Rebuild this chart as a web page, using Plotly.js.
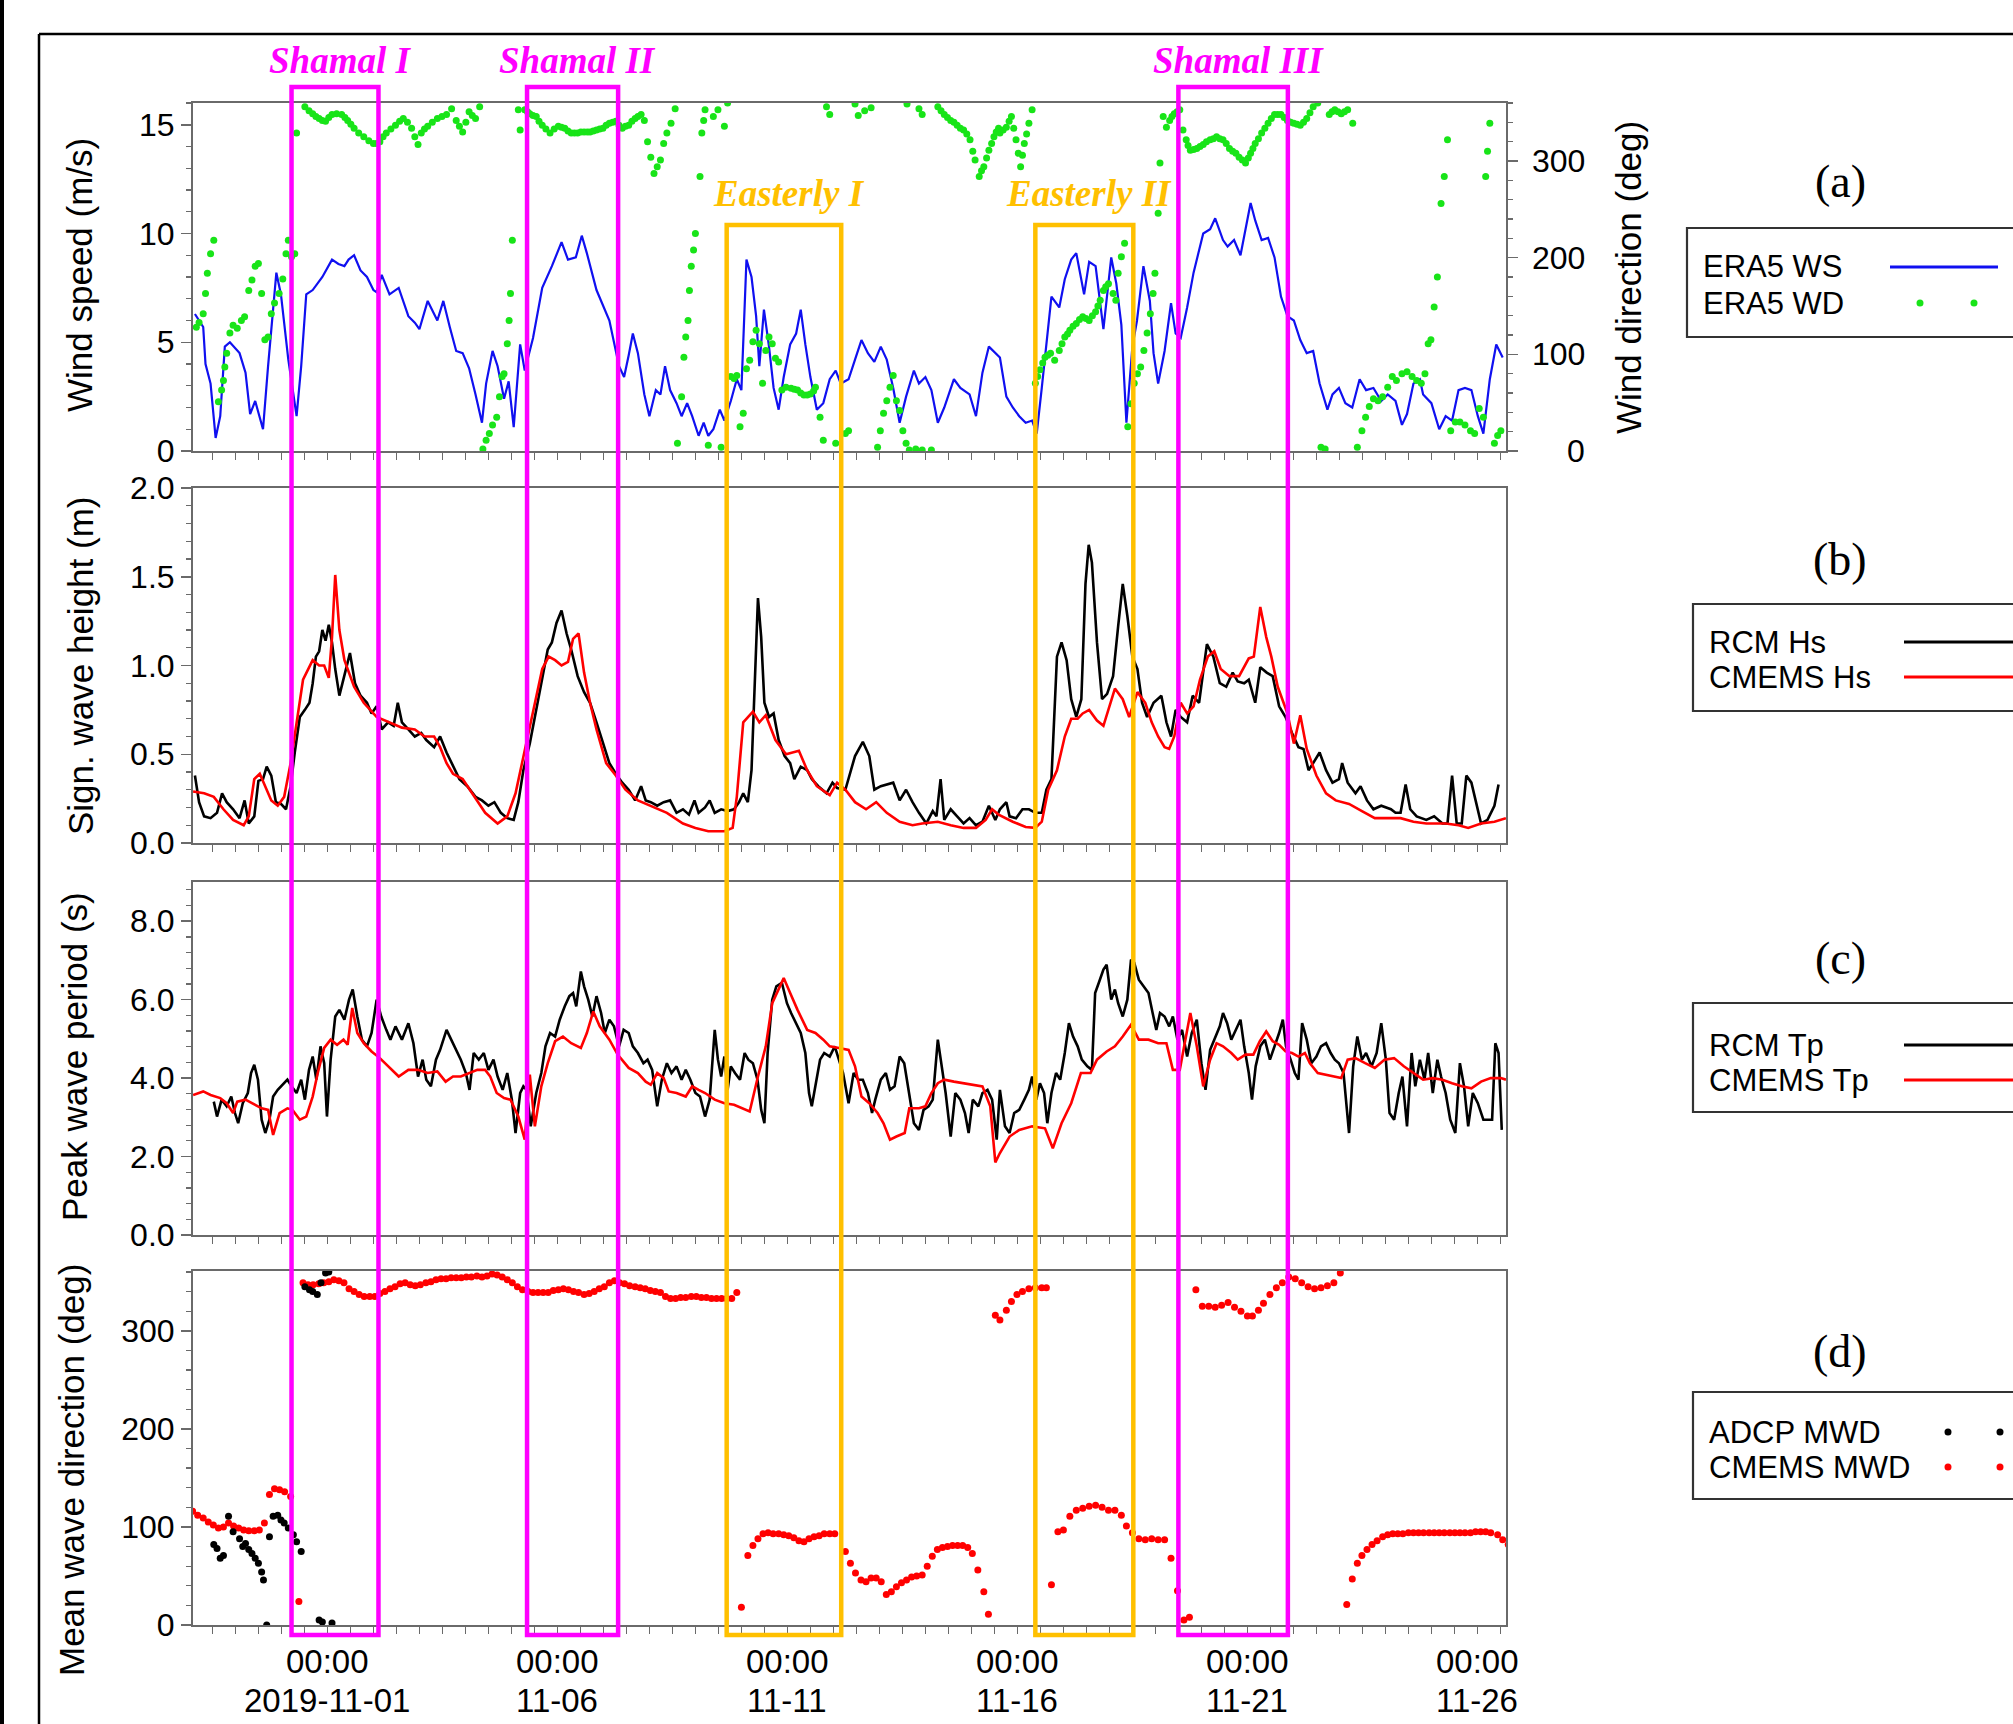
<!DOCTYPE html>
<html><head><meta charset="utf-8">
<script src="https://cdn.plot.ly/plotly-3.0.1.min.js"></script>
<style>html,body{margin:0;padding:0;background:#fff}#chart{width:2013px;height:1724px}</style>
</head><body><div id="chart"></div>
<script>
// ---------- DATA (time = days since 2019-11-01 00:00) ----------
const tickDays = [0,5,10,15,20,25];
const tickTimes = ['00:00','00:00','00:00','00:00','00:00','00:00'];
const tickDates = ['2019-11-01','11-06','11-11','11-16','11-21','11-26'];
const wdTicks = [0,100,200,300];

const eventNames = ['Shamal I','Shamal II','Easterly I','Easterly II','Shamal III'];
const eventKind  = ['shamal','shamal','easterly','easterly','shamal'];
const eventStart = [-0.78, 4.34, 8.68, 15.39, 18.50];
const eventEnd   = [1.11, 6.32, 11.17, 17.52, 20.88];

// (a) ERA5 wind speed (m/s)
const era5WS = [[-2.88,6.3],[-2.70,5.7],[-2.65,4.0],[-2.54,3.1],[-2.43,0.6],[-2.33,1.6],[-2.23,4.8],[-2.12,5.0],[-1.91,4.5],[-1.78,3.6],[-1.68,1.7],[-1.57,2.3],[-1.40,1.0],[-1.29,3.9],[-1.11,8.2],[-1.01,7.2],[-0.85,4.2],[-0.67,1.6],[-0.57,3.9],[-0.46,7.2],[-0.32,7.4],[-0.11,8.0],[0.10,8.8],[0.24,8.6],[0.37,8.5],[0.46,8.8],[0.58,9.0],[0.72,8.3],[0.86,8.0],[1.00,7.4],[1.07,7.3],[1.18,8.1],[1.35,7.2],[1.55,7.5],[1.76,6.2],[1.90,5.9],[2.00,5.6],[2.18,6.9],[2.39,6.0],[2.52,6.9],[2.66,5.7],[2.80,4.6],[2.94,4.5],[3.08,3.8],[3.22,2.6],[3.36,1.3],[3.45,3.1],[3.59,4.6],[3.70,3.9],[3.84,2.4],[3.94,3.2],[4.05,1.1],[4.19,4.9],[4.29,3.7],[4.47,5.2],[4.67,7.5],[4.88,8.5],[5.09,9.6],[5.23,8.8],[5.40,8.9],[5.53,9.9],[5.64,9.1],[5.85,7.4],[5.99,6.7],[6.13,6.0],[6.34,3.9],[6.45,3.4],[6.55,4.4],[6.64,5.4],[6.75,4.5],[6.89,2.6],[7.00,1.6],[7.14,2.8],[7.24,2.6],[7.34,3.9],[7.45,2.8],[7.59,2.2],[7.70,1.6],[7.82,2.2],[7.93,1.6],[8.07,0.7],[8.18,1.3],[8.28,0.7],[8.39,1.0],[8.53,1.9],[8.63,1.4],[8.77,2.3],[8.90,3.3],[9.00,2.8],[9.11,8.8],[9.22,8.0],[9.32,6.2],[9.39,3.9],[9.49,6.5],[9.60,4.8],[9.70,2.9],[9.81,1.9],[9.92,3.4],[10.06,4.9],[10.19,5.4],[10.29,6.5],[10.39,4.9],[10.50,3.4],[10.64,1.9],[10.78,2.2],[10.92,3.3],[11.05,3.7],[11.16,3.1],[11.33,3.3],[11.47,4.2],[11.61,5.1],[11.75,4.5],[11.89,4.1],[12.03,4.8],[12.16,4.2],[12.30,2.9],[12.44,1.3],[12.58,2.5],[12.75,3.7],[12.86,3.1],[13.00,3.4],[13.13,2.8],[13.27,1.3],[13.41,2.0],[13.62,3.3],[13.76,2.9],[13.96,2.6],[14.10,1.6],[14.24,3.6],[14.38,4.8],[14.52,4.5],[14.62,4.3],[14.76,2.5],[14.90,2.0],[15.04,1.6],[15.18,1.3],[15.32,1.4],[15.42,0.8],[15.53,2.9],[15.74,7.1],[15.91,6.6],[16.03,7.9],[16.17,8.8],[16.28,9.1],[16.45,7.2],[16.56,8.7],[16.70,8.5],[16.87,5.6],[17.04,8.9],[17.15,7.7],[17.26,5.8],[17.37,1.3],[17.50,4.8],[17.60,6.0],[17.74,8.5],[17.88,6.9],[17.96,4.5],[18.06,3.1],[18.20,4.6],[18.34,6.8],[18.44,5.4],[18.55,5.2],[18.69,6.6],[18.83,8.2],[19.04,10.0],[19.19,10.2],[19.30,10.7],[19.47,9.7],[19.57,9.4],[19.71,9.7],[19.85,9.0],[20.07,11.4],[20.17,10.6],[20.31,9.7],[20.45,9.8],[20.59,8.9],[20.73,7.1],[20.87,6.2],[21.01,6.0],[21.15,5.1],[21.29,4.5],[21.43,4.6],[21.57,3.1],[21.74,1.9],[21.85,2.6],[21.99,2.9],[22.13,2.2],[22.28,2.0],[22.44,3.3],[22.58,2.8],[22.74,2.9],[22.91,2.3],[23.05,2.6],[23.22,2.3],[23.36,1.2],[23.47,1.7],[23.61,3.1],[23.75,3.3],[23.82,2.6],[24.00,2.2],[24.17,1.0],[24.31,1.6],[24.45,1.4],[24.59,2.8],[24.73,2.9],[24.87,2.8],[25.01,1.6],[25.13,0.8],[25.27,3.3],[25.41,4.9],[25.55,4.3]];

// (a) ERA5 wind direction (deg)
const era5WD = [[-2.85,128],[-2.79,133],[-2.70,142],[-2.65,163],[-2.61,184],[-2.54,204],[-2.47,218],
[-2.37,51],[-2.30,63],[-2.26,73],[-2.23,87],[-2.19,101],[-2.12,122],[-2.05,130],[-1.96,127],[-1.87,135],[-1.80,139],[-1.71,166],[-1.64,177],[-1.57,191],[-1.50,194],[-1.43,163],[-1.36,115],[-1.29,118],[-1.22,142],[-1.15,153],[-1.05,163],[-0.97,178],[-0.90,204],[-0.85,218],[-0.78,201],[-0.71,204],[-0.67,329],
[-0.49,356],[-0.40,352],[-0.32,349],[-0.25,346],[-0.18,344],[-0.11,342],[-0.04,341],[0.03,345],[0.10,348],[0.20,349],[0.31,348],[0.38,345],[0.44,342],[0.51,338],[0.58,334],[0.68,329],[0.79,325],[0.90,321],[1.00,318],[1.07,318],[1.14,320],[1.21,325],[1.28,329],[1.38,333],[1.48,337],[1.57,341],[1.65,344],[1.74,340],[1.83,334],[1.90,325],[1.97,317],[2.04,329],[2.11,333],[2.18,336],[2.28,340],[2.39,344],[2.49,346],[2.59,348],[2.70,354],[2.80,342],[2.87,336],[2.94,330],[3.01,340],[3.08,351],[3.15,347],[3.22,344],[3.31,356],
[3.38,2],[3.45,11],[3.52,18],[3.59,27],[3.68,35],[3.74,56],[3.80,77],[3.84,80],[3.91,111],[3.95,135],[3.98,163],[4.02,218],
[4.15,353],[4.19,332],[4.29,353],[4.35,351],[4.40,349],[4.47,347],[4.54,346],[4.60,341],[4.67,337],[4.75,333],[4.84,329],[4.93,333],[5.02,336],[5.09,335],[5.16,334],[5.23,331],[5.30,329],[5.37,329],[5.44,329],[5.51,330],[5.58,330],[5.65,330],[5.71,330],[5.78,331],[5.85,332],[5.92,333],[5.99,334],[6.06,337],[6.13,339],[6.20,340],[6.27,341],[6.34,337],[6.41,334],[6.48,336],[6.55,337],[6.62,341],[6.69,344],[6.75,346],[6.82,348],[6.89,342],[6.96,320],[7.03,304],[7.10,287],[7.17,294],[7.24,301],[7.31,318],[7.38,329],[7.47,339],[7.56,354],
[7.61,8],[7.70,56],[7.75,97],[7.79,118],[7.84,135],[7.87,166],[7.91,191],[7.96,208],[8.00,225],[8.10,284],[8.14,329],[8.18,342],[8.21,353],[8.28,6],[8.39,346],[8.49,353],[8.56,4],[8.63,336],[8.70,360],
[8.77,77],[8.84,75],[8.90,78],[8.97,25],[9.04,39],[9.11,85],[9.18,94],[9.25,113],[9.32,125],[9.39,111],[9.46,70],[9.53,104],[9.60,118],[9.67,111],[9.74,96],[9.81,92],[9.88,63],[9.97,66],[10.08,65],[10.15,64],[10.22,63],[10.29,60],[10.36,58],[10.43,58],[10.50,59],[10.57,62],[10.61,66],[10.71,35],[10.78,11],[11.05,8],[11.26,18],[11.33,21],
[10.85,356],[10.92,348],[11.47,359],[11.54,347],[11.68,352],[11.82,355],
[11.96,4],[12.02,21],[12.09,39],[12.16,52],[12.23,66],[12.30,78],[12.37,52],[12.44,42],[12.51,21],[12.58,8],[12.65,1],[12.79,2],[12.93,1],[13.13,1],
[12.60,359],[12.86,354],[12.93,348],[13.27,356],[13.34,352],[13.41,348],[13.48,345],[13.55,342],[13.62,340],[13.69,337],[13.76,334],[13.83,332],[13.90,328],[13.97,322],[14.03,310],[14.08,301],[14.17,284],[14.22,290],[14.27,294],[14.33,303],[14.38,311],[14.44,318],[14.49,325],[14.54,330],[14.59,334],[14.62,329],[14.69,332],[14.76,335],[14.82,341],[14.87,346],[14.92,334],[14.97,322],[15.02,308],[15.07,294],[15.11,306],[15.15,318],[15.20,328],[15.25,339],[15.32,353],
[15.39,70],[15.44,77],[15.49,84],[15.55,91],[15.60,97],[15.66,99],[15.72,101],[15.81,94],[15.91,104],[15.97,111],[16.03,118],[16.09,121],[16.14,125],[16.21,129],[16.28,132],[16.35,136],[16.42,139],[16.49,137],[16.56,135],[16.63,140],[16.70,144],[16.75,150],[16.80,156],[16.87,166],[16.92,170],[16.98,173],[17.08,163],[17.14,156],[17.19,184],[17.26,201],[17.33,215],
[17.40,25],[17.47,49],[17.54,70],[17.61,80],[17.68,87],[17.75,104],[17.82,122],[17.89,142],[17.95,163],[17.99,184],[18.06,246],[18.10,298],[18.17,346],[18.24,335],[18.31,342],[18.36,346],[18.41,349],[18.47,351],[18.53,353],[18.60,332],[18.67,322],[18.71,316],[18.76,311],[18.83,312],[18.90,313],[18.97,315],[19.04,317],[19.11,320],[19.19,322],[19.26,323],[19.33,325],[19.40,323],[19.47,322],[19.54,318],[19.61,313],[19.68,310],[19.75,308],[19.82,304],[19.89,301],[19.96,298],[20.02,303],[20.07,308],[20.12,313],[20.17,318],[20.24,323],[20.31,329],[20.38,334],[20.45,339],[20.52,344],[20.59,348],[20.66,348],[20.73,348],[20.80,345],[20.87,342],[20.94,340],[21.01,339],[21.08,338],[21.15,337],[21.22,340],[21.29,344],[21.36,350],[21.43,356],[21.53,360],[21.60,4],[21.69,2],[21.78,348],[21.84,351],[21.90,353],[21.97,351],[22.04,349],[22.11,351],[22.18,353],[22.29,339],[22.39,4],
[22.49,21],[22.57,35],[22.65,46],[22.74,54],[22.84,52],[22.94,56],[23.05,66],[23.15,77],[23.24,73],[23.36,80],[23.47,82],[23.58,77],[23.68,73],[23.78,70],[23.86,80],[23.93,111],[23.99,115],[24.06,149],[24.13,180],[24.21,256],[24.28,284],[24.35,322],[24.42,21],[24.52,30],[24.62,30],[24.73,27],[24.85,21],[24.94,18],[25.04,44],[25.13,35],[25.18,284],[25.22,310],[25.27,339],[25.37,8],[25.44,16],[25.51,21]];

// (b) significant wave height (m)
const rcmHs = [[-2.88,0.38],[-2.79,0.23],[-2.68,0.15],[-2.54,0.14],[-2.40,0.17],[-2.29,0.28],[-2.19,0.23],[-2.05,0.19],[-1.91,0.14],[-1.80,0.24],[-1.71,0.11],[-1.59,0.15],[-1.50,0.35],[-1.40,0.36],[-1.32,0.43],[-1.22,0.38],[-1.12,0.23],[-1.01,0.22],[-0.90,0.19],[-0.80,0.32],[-0.71,0.51],[-0.60,0.71],[-0.49,0.75],[-0.39,0.79],[-0.32,0.90],[-0.25,1.05],[-0.18,1.08],[-0.11,1.20],[-0.04,1.14],[0.03,1.23],[0.10,1.13],[0.17,0.98],[0.26,0.83],[0.37,0.94],[0.49,1.07],[0.60,0.90],[0.72,0.83],[0.86,0.79],[0.96,0.73],[1.07,0.77],[1.18,0.64],[1.32,0.68],[1.44,0.66],[1.53,0.79],[1.62,0.68],[1.76,0.64],[1.90,0.60],[2.04,0.62],[2.15,0.58],[2.32,0.54],[2.45,0.60],[2.59,0.51],[2.73,0.43],[2.87,0.36],[3.04,0.32],[3.22,0.26],[3.36,0.24],[3.50,0.21],[3.63,0.23],[3.77,0.17],[3.91,0.14],[4.05,0.13],[4.15,0.23],[4.26,0.41],[4.40,0.56],[4.54,0.75],[4.67,0.94],[4.79,1.09],[4.88,1.13],[4.98,1.24],[5.09,1.31],[5.20,1.18],[5.30,1.09],[5.44,0.94],[5.58,0.85],[5.71,0.79],[5.85,0.68],[5.99,0.56],[6.13,0.45],[6.27,0.39],[6.41,0.34],[6.55,0.30],[6.69,0.24],[6.82,0.32],[6.92,0.24],[7.03,0.23],[7.17,0.21],[7.31,0.23],[7.45,0.24],[7.59,0.17],[7.73,0.19],[7.86,0.16],[7.98,0.24],[8.07,0.17],[8.21,0.20],[8.31,0.24],[8.42,0.17],[8.56,0.19],[8.70,0.18],[8.84,0.19],[8.95,0.23],[9.04,0.28],[9.14,0.23],[9.22,0.41],[9.30,0.98],[9.36,1.38],[9.43,1.16],[9.50,0.79],[9.60,0.71],[9.70,0.73],[9.81,0.58],[9.94,0.49],[10.06,0.45],[10.15,0.36],[10.29,0.43],[10.43,0.41],[10.53,0.36],[10.67,0.32],[10.85,0.28],[10.98,0.34],[11.08,0.31],[11.26,0.30],[11.47,0.49],[11.64,0.57],[11.78,0.49],[11.89,0.30],[12.03,0.32],[12.19,0.33],[12.30,0.34],[12.44,0.24],[12.58,0.30],[12.72,0.23],[12.86,0.17],[13.02,0.11],[13.16,0.18],[13.24,0.15],[13.33,0.36],[13.41,0.13],[13.55,0.19],[13.69,0.15],[13.83,0.11],[13.96,0.14],[14.10,0.10],[14.24,0.12],[14.38,0.21],[14.52,0.13],[14.62,0.19],[14.76,0.23],[14.83,0.15],[14.97,0.14],[15.11,0.19],[15.25,0.19],[15.39,0.17],[15.53,0.17],[15.63,0.30],[15.74,0.36],[15.86,1.05],[15.96,1.13],[16.07,1.03],[16.17,0.81],[16.28,0.71],[16.39,0.81],[16.48,1.46],[16.55,1.68],[16.62,1.58],[16.73,1.13],[16.84,0.81],[16.95,0.84],[17.08,0.94],[17.19,1.22],[17.29,1.46],[17.39,1.28],[17.50,1.05],[17.61,0.98],[17.71,0.79],[17.82,0.71],[17.96,0.79],[18.13,0.83],[18.24,0.68],[18.34,0.60],[18.44,0.75],[18.55,0.71],[18.69,0.68],[18.81,0.83],[18.95,0.79],[19.12,1.12],[19.26,1.05],[19.40,0.90],[19.54,0.88],[19.68,0.96],[19.79,0.91],[19.93,0.90],[20.03,0.92],[20.17,0.79],[20.28,0.99],[20.42,0.96],[20.55,0.94],[20.69,0.77],[20.83,0.71],[20.97,0.62],[21.11,0.54],[21.22,0.53],[21.33,0.41],[21.43,0.45],[21.57,0.51],[21.71,0.41],[21.85,0.34],[21.99,0.36],[22.06,0.45],[22.18,0.34],[22.35,0.28],[22.46,0.32],[22.60,0.24],[22.74,0.19],[22.91,0.21],[23.12,0.19],[23.22,0.17],[23.33,0.17],[23.44,0.33],[23.54,0.19],[23.68,0.15],[23.89,0.13],[24.06,0.15],[24.24,0.11],[24.35,0.11],[24.45,0.38],[24.55,0.11],[24.66,0.11],[24.76,0.38],[24.87,0.34],[24.97,0.23],[25.08,0.11],[25.22,0.13],[25.37,0.21],[25.46,0.33]];
const cmemsHs = [[-2.92,0.29],[-2.68,0.28],[-2.47,0.26],[-2.26,0.19],[-2.05,0.13],[-1.82,0.10],[-1.71,0.15],[-1.59,0.36],[-1.47,0.39],[-1.36,0.32],[-1.22,0.24],[-1.08,0.21],[-0.94,0.26],[-0.80,0.45],[-0.67,0.69],[-0.53,0.92],[-0.32,1.03],[-0.18,1.00],[-0.07,1.00],[0.03,0.93],[0.10,1.16],[0.17,1.51],[0.26,1.20],[0.37,1.03],[0.58,0.88],[0.79,0.79],[1.07,0.71],[1.35,0.68],[1.62,0.65],[1.90,0.64],[2.11,0.60],[2.32,0.60],[2.45,0.54],[2.59,0.45],[2.73,0.39],[2.94,0.36],[3.15,0.28],[3.43,0.17],[3.70,0.11],[3.91,0.15],[4.09,0.28],[4.26,0.49],[4.47,0.73],[4.67,0.98],[4.81,1.05],[4.95,1.03],[5.09,1.00],[5.23,1.02],[5.34,1.15],[5.46,1.18],[5.58,0.96],[5.71,0.79],[5.85,0.64],[6.06,0.45],[6.27,0.38],[6.48,0.30],[6.75,0.24],[7.03,0.21],[7.38,0.17],[7.73,0.11],[8.00,0.085],[8.28,0.066],[8.63,0.066],[8.81,0.085],[8.90,0.26],[9.04,0.68],[9.25,0.74],[9.39,0.68],[9.53,0.72],[9.74,0.58],[9.97,0.50],[10.25,0.52],[10.43,0.41],[10.64,0.32],[10.92,0.27],[11.08,0.34],[11.26,0.30],[11.47,0.23],[11.71,0.19],[11.93,0.23],[12.16,0.17],[12.44,0.12],[12.72,0.10],[12.93,0.11],[13.27,0.12],[13.55,0.10],[13.83,0.085],[14.10,0.085],[14.31,0.13],[14.45,0.19],[14.59,0.16],[14.90,0.12],[15.18,0.09],[15.39,0.085],[15.53,0.12],[15.67,0.30],[15.86,0.41],[16.03,0.60],[16.17,0.70],[16.31,0.70],[16.42,0.73],[16.56,0.75],[16.73,0.69],[16.87,0.66],[16.98,0.75],[17.12,0.87],[17.29,0.81],[17.43,0.71],[17.61,0.85],[17.78,0.79],[17.92,0.68],[18.06,0.60],[18.20,0.54],[18.30,0.53],[18.41,0.60],[18.55,0.79],[18.69,0.73],[18.83,0.77],[18.97,0.92],[19.14,1.05],[19.28,1.08],[19.42,0.98],[19.61,0.94],[19.82,0.94],[20.03,1.04],[20.14,1.05],[20.28,1.33],[20.41,1.16],[20.52,1.05],[20.66,0.88],[20.87,0.73],[21.01,0.56],[21.15,0.72],[21.29,0.53],[21.50,0.38],[21.71,0.28],[21.92,0.24],[22.21,0.22],[22.49,0.18],[22.77,0.14],[23.05,0.14],[23.33,0.14],[23.61,0.12],[23.89,0.11],[24.31,0.11],[24.59,0.10],[24.80,0.085],[25.08,0.11],[25.37,0.12],[25.62,0.14]];

// (c) peak wave period (s)
const rcmTp = [[-2.47,3.40],[-2.40,3.02],[-2.30,3.45],[-2.19,3.28],[-2.09,3.53],[-2.01,3.11],[-1.94,2.85],[-1.84,3.36],[-1.73,3.62],[-1.66,4.13],[-1.59,4.34],[-1.51,3.96],[-1.43,2.94],[-1.35,2.60],[-1.26,2.94],[-1.18,3.53],[-1.08,3.70],[-0.97,3.83],[-0.87,3.96],[-0.78,3.79],[-0.67,3.62],[-0.57,3.96],[-0.49,3.45],[-0.40,4.21],[-0.32,4.55],[-0.24,3.96],[-0.15,4.81],[-0.07,4.38],[-0.01,3.02],[0.07,4.47],[0.17,5.57],[0.26,5.74],[0.37,5.49],[0.47,6.00],[0.55,6.26],[0.65,5.57],[0.75,4.98],[0.86,4.81],[0.96,5.15],[1.07,6.00],[1.17,5.57],[1.28,5.23],[1.37,4.98],[1.48,5.32],[1.62,4.98],[1.76,5.40],[1.87,4.89],[1.97,4.04],[2.07,4.47],[2.15,3.96],[2.25,3.79],[2.36,4.47],[2.45,4.72],[2.59,5.23],[2.69,4.98],[2.80,4.72],[2.90,4.47],[3.01,4.13],[3.09,3.70],[3.18,4.64],[3.29,4.47],[3.40,4.64],[3.50,4.21],[3.61,4.47],[3.70,4.04],[3.81,3.70],[3.91,4.13],[4.01,3.45],[4.09,2.60],[4.19,3.62],[4.26,3.79],[4.33,3.70],[4.42,2.77],[4.54,3.62],[4.65,4.13],[4.74,4.81],[4.84,5.15],[4.95,5.06],[5.05,5.49],[5.16,5.83],[5.26,6.09],[5.34,6.17],[5.41,5.83],[5.51,6.72],[5.58,6.34],[5.67,6.00],[5.76,5.57],[5.85,6.09],[5.95,5.66],[6.03,5.15],[6.13,5.49],[6.23,5.32],[6.34,4.81],[6.44,5.23],[6.55,5.15],[6.64,4.81],[6.75,4.64],[6.87,4.38],[6.96,4.47],[7.06,4.21],[7.17,3.28],[7.27,3.96],[7.38,4.38],[7.48,4.13],[7.59,4.30],[7.70,3.96],[7.79,4.21],[7.89,3.96],[8.00,3.62],[8.10,3.53],[8.21,3.02],[8.31,3.45],[8.42,5.23],[8.49,4.47],[8.56,4.04],[8.63,4.55],[8.70,3.70],[8.77,4.30],[8.86,4.13],[8.97,3.96],[9.07,4.64],[9.15,4.47],[9.25,4.38],[9.35,3.96],[9.43,3.19],[9.50,2.85],[9.57,4.64],[9.67,6.00],[9.76,6.34],[9.88,6.43],[9.99,5.91],[10.08,5.66],[10.19,5.40],[10.29,5.15],[10.39,4.64],[10.47,3.62],[10.53,3.28],[10.61,3.79],[10.71,4.47],[10.80,4.64],[10.92,4.55],[11.03,4.81],[11.12,4.47],[11.21,4.13],[11.33,3.36],[11.44,4.13],[11.54,3.96],[11.64,3.96],[11.75,3.62],[11.84,3.11],[11.91,3.45],[12.03,3.96],[12.14,4.13],[12.23,3.70],[12.33,3.79],[12.44,4.55],[12.54,4.38],[12.65,3.62],[12.75,2.85],[12.86,2.68],[12.96,3.19],[13.07,3.28],[13.16,3.45],[13.27,4.98],[13.35,4.30],[13.44,3.62],[13.55,2.51],[13.65,3.62],[13.76,3.45],[13.86,3.11],[13.94,2.60],[14.03,3.45],[14.15,3.28],[14.24,3.62],[14.35,3.70],[14.45,3.45],[14.55,2.43],[14.62,3.70],[14.73,2.77],[14.83,2.60],[14.93,3.11],[15.04,3.19],[15.15,3.45],[15.25,3.70],[15.32,4.04],[15.41,3.45],[15.49,3.87],[15.58,3.62],[15.65,2.85],[15.74,3.62],[15.84,4.13],[15.93,3.96],[16.03,4.64],[16.12,5.40],[16.21,5.06],[16.31,4.81],[16.40,4.47],[16.52,4.30],[16.62,4.21],[16.69,6.17],[16.77,6.43],[16.87,6.77],[16.94,6.89],[17.04,6.00],[17.12,6.26],[17.19,5.91],[17.29,5.57],[17.39,6.00],[17.47,7.02],[17.54,6.94],[17.64,6.51],[17.74,6.34],[17.85,6.17],[17.94,5.66],[18.02,5.23],[18.10,5.66],[18.20,5.57],[18.30,5.32],[18.38,5.57],[18.48,4.98],[18.58,5.23],[18.69,4.55],[18.79,5.15],[18.90,5.49],[19.00,4.38],[19.09,3.70],[19.19,4.72],[19.28,4.98],[19.40,5.32],[19.47,5.66],[19.56,5.40],[19.65,4.98],[19.75,5.23],[19.85,5.49],[19.93,4.81],[20.03,4.13],[20.10,3.45],[20.18,4.30],[20.28,4.81],[20.38,4.98],[20.49,4.47],[20.59,4.81],[20.69,5.15],[20.77,5.49],[20.84,4.81],[20.94,4.47],[21.03,4.13],[21.11,3.96],[21.19,5.40],[21.29,4.98],[21.39,4.38],[21.50,4.55],[21.60,4.81],[21.71,4.89],[21.81,4.64],[21.90,4.47],[21.99,4.38],[22.09,4.13],[22.21,2.60],[22.30,4.30],[22.39,5.06],[22.49,4.47],[22.58,4.64],[22.70,4.30],[22.81,4.64],[22.91,5.40],[23.01,4.47],[23.09,3.11],[23.19,2.94],[23.29,3.62],[23.37,4.04],[23.47,2.77],[23.57,4.64],[23.65,3.79],[23.75,4.47],[23.85,3.96],[23.93,4.64],[24.03,3.62],[24.13,4.47],[24.21,4.04],[24.31,3.62],[24.41,2.94],[24.52,2.60],[24.62,4.38],[24.71,3.79],[24.80,2.77],[24.90,3.62],[25.01,3.36],[25.13,2.94],[25.22,2.94],[25.32,2.94],[25.39,4.89],[25.46,4.64],[25.53,2.68]];
const cmemsTp = [[-2.92,3.57],[-2.70,3.66],[-2.54,3.57],[-2.33,3.49],[-2.19,3.36],[-2.05,3.11],[-1.96,3.40],[-1.78,3.45],[-1.64,3.36],[-1.43,3.23],[-1.29,3.19],[-1.18,2.55],[-1.04,3.11],[-0.87,3.23],[-0.76,3.19],[-0.60,2.94],[-0.46,3.02],[-0.32,3.53],[-0.21,4.13],[-0.07,4.77],[0.07,4.98],[0.21,4.85],[0.35,4.98],[0.44,4.85],[0.54,5.79],[0.65,5.15],[0.79,4.89],[0.96,4.68],[1.14,4.51],[1.35,4.26],[1.55,4.04],[1.76,4.21],[1.97,4.21],[2.18,4.13],[2.39,4.17],[2.57,3.91],[2.73,4.04],[2.90,4.04],[3.08,4.13],[3.26,4.21],[3.43,4.21],[3.54,4.04],[3.68,3.62],[3.84,3.49],[3.98,3.45],[4.15,3.02],[4.29,2.43],[4.40,4.09],[4.51,2.77],[4.65,3.79],[4.79,4.38],[4.95,4.94],[5.12,5.06],[5.30,4.89],[5.51,4.77],[5.64,5.15],[5.78,5.70],[5.92,5.32],[6.13,4.98],[6.31,4.60],[6.55,4.26],[6.75,4.13],[6.92,3.91],[7.03,3.83],[7.17,4.13],[7.31,4.00],[7.42,3.66],[7.59,3.62],[7.79,3.53],[7.93,3.79],[8.07,3.70],[8.21,3.62],[8.42,3.45],[8.63,3.36],[8.84,3.32],[9.04,3.23],[9.18,3.15],[9.36,4.04],[9.53,4.81],[9.67,5.91],[9.81,6.26],[9.92,6.55],[10.06,6.17],[10.22,5.74],[10.43,5.23],[10.61,5.15],[10.78,4.98],[10.92,4.81],[11.12,4.77],[11.33,4.72],[11.47,4.30],[11.61,3.53],[11.78,3.36],[11.96,3.11],[12.09,2.85],[12.23,2.43],[12.37,2.51],[12.55,2.60],[12.65,3.23],[12.86,3.23],[13.00,3.28],[13.13,3.62],[13.27,3.87],[13.41,3.96],[13.62,3.91],[13.83,3.87],[14.03,3.83],[14.24,3.79],[14.41,3.28],[14.52,1.85],[14.62,2.09],[14.83,2.51],[15.04,2.68],[15.32,2.77],[15.60,2.72],[15.77,2.21],[15.96,2.85],[16.17,3.36],[16.38,4.13],[16.59,4.13],[16.73,4.47],[16.94,4.68],[17.12,4.81],[17.29,5.06],[17.47,5.36],[17.64,4.98],[17.85,4.98],[18.06,4.89],[18.24,4.89],[18.38,4.21],[18.53,4.21],[18.76,5.66],[18.90,4.81],[19.04,3.79],[19.19,4.47],[19.33,4.89],[19.47,4.81],[19.65,4.64],[19.79,4.47],[19.96,4.60],[20.13,4.60],[20.27,4.94],[20.41,5.19],[20.55,4.94],[20.69,4.85],[20.83,4.68],[20.97,4.64],[21.11,4.55],[21.25,4.64],[21.36,4.38],[21.53,4.13],[21.71,4.09],[21.90,4.04],[22.04,4.00],[22.18,4.47],[22.35,4.51],[22.56,4.38],[22.77,4.26],[22.98,4.47],[23.19,4.51],[23.40,4.30],[23.61,4.13],[23.82,3.96],[24.03,4.00],[24.24,3.96],[24.45,3.87],[24.66,3.79],[24.87,3.74],[25.08,3.91],[25.29,4.00],[25.51,4.00],[25.62,3.96]];

// (d) mean wave direction (deg)
const adcpMWD = [[-2.47,82],[-2.40,78],[-2.33,68],[-2.26,71],[-2.15,111],[-2.05,95],[-1.91,88],[-1.84,80],[-1.78,83],[-1.71,77],[-1.64,73],[-1.57,68],[-1.50,63],[-1.43,54],[-1.39,46],[-1.32,0],[-1.26,90],[-1.18,111],[-1.08,112],[-1.01,107],[-0.94,104],[-0.85,99],[-0.74,92],[-0.67,85],[-0.57,75],[-0.49,345],[-0.39,342],[-0.32,340],[-0.22,337],[-0.18,5],[-0.14,349],[-0.11,3],[-0.04,359],[0.03,360],[0.10,2]];
const cmemsMWD = [[-2.93,116],[-2.82,112],[-2.70,109],[-2.59,105],[-2.48,102],[-2.37,99],[-2.26,100],[-2.15,104],[-2.04,101],[-1.93,99],[-1.82,97],[-1.71,96],[-1.59,96],[-1.48,97],[-1.37,104],[-1.26,133],[-1.15,139],[-1.04,138],[-0.93,136],[-0.80,131],[-0.62,24],
[-0.53,349],[-0.42,347],[-0.31,347],[-0.19,348],[-0.08,349],[0.03,350],[0.14,352],[0.25,351],[0.36,349],[0.47,343],[0.58,340],[0.69,337],[0.80,335],[0.92,335],[1.03,335],[1.14,338],[1.25,340],[1.36,343],[1.47,345],[1.58,348],[1.69,349],[1.80,347],[1.91,346],[2.02,347],[2.14,349],[2.25,350],[2.36,352],[2.47,353],[2.58,353],[2.69,354],[2.80,354],[2.91,354],[3.02,355],[3.13,355],[3.25,356],[3.36,355],[3.47,356],[3.58,358],[3.69,357],[3.80,355],[3.91,352],[4.02,349],[4.13,345],[4.24,342],[4.36,340],[4.47,339],[4.58,339],[4.69,339],[4.80,339],[4.91,341],[5.02,342],[5.13,343],[5.24,342],[5.35,340],[5.46,339],[5.58,337],[5.69,338],[5.80,340],[5.91,343],[6.02,345],[6.13,349],[6.24,351],[6.35,349],[6.46,348],[6.57,346],[6.69,345],[6.80,344],[6.91,343],[7.02,341],[7.13,340],[7.24,339],[7.35,335],[7.46,333],[7.57,333],[7.68,334],[7.79,334],[7.91,335],[8.02,335],[8.13,334],[8.24,334],[8.35,333],[8.46,333],[8.57,333],[8.68,333],[8.79,333],[8.90,339],
[9.00,18],[9.14,71],[9.25,81],[9.36,88],[9.47,93],[9.58,94],[9.69,93],[9.81,93],[9.92,92],[10.03,91],[10.14,89],[10.25,86],[10.36,85],[10.47,88],[10.58,90],[10.69,91],[10.80,93],[10.92,93],[11.03,93],[11.26,75],[11.37,63],[11.48,53],[11.60,46],[11.71,44],[11.82,48],[11.93,48],[12.04,44],[12.15,31],[12.26,34],[12.37,39],[12.48,43],[12.59,46],[12.70,49],[12.81,50],[12.93,51],[13.04,60],[13.15,70],[13.26,77],[13.37,79],[13.48,80],[13.59,81],[13.70,81],[13.81,81],[13.92,79],[14.02,73],[14.14,56],[14.27,34],[14.37,11],
[14.52,316],[14.62,311],[14.76,321],[14.87,330],[14.99,337],[15.11,340],[15.25,343],[15.39,344],[15.53,344],[15.63,344],
[15.74,41],[15.88,95],[16.00,97],[16.14,111],[16.28,117],[16.42,119],[16.56,121],[16.70,122],[16.84,120],[16.98,117],[17.12,117],[17.26,112],[17.37,101],[17.50,94],[17.64,88],[17.78,87],[17.92,88],[18.06,87],[18.20,87],[18.34,68],[18.48,35],[18.62,5],[18.74,8],
[18.88,342],[19.02,325],[19.16,325],[19.30,324],[19.44,326],[19.58,329],[19.72,324],[19.86,320],[20.00,315],[20.11,315],[20.24,321],[20.35,328],[20.49,337],[20.63,344],[20.76,349],[20.90,355],[21.04,353],[21.18,349],[21.32,345],[21.46,343],[21.60,344],[21.74,346],[21.88,349],[22.02,359],
[22.16,21],[22.28,47],[22.39,63],[22.49,71],[22.60,77],[22.71,82],[22.82,86],[22.94,90],[23.05,92],[23.16,93],[23.27,93],[23.38,93],[23.50,94],[23.61,94],[23.72,94],[23.83,94],[23.95,94],[24.06,94],[24.17,94],[24.28,94],[24.40,94],[24.51,94],[24.62,94],[24.73,94],[24.85,94],[24.96,95],[25.07,95],[25.18,95],[25.29,94],[25.44,92],[25.55,87],[25.67,82]];

// ---------- helpers ----------
const W = 2013, H = 1724;
const DAY = 86400000, T0 = Date.UTC(2019, 10, 1);
const T = d => T0 + d * DAY;
const PX = x => x / W, PY = y => 1 - y / H;
const xs = a => a.map(p => T(p[0]));
const ys = a => a.map(p => p[1]);

const FONT = 'Liberation Sans, Arial, sans-serif';
const SERIF = 'Liberation Serif, Times New Roman, serif';
const AX = '#6a6a6a';
const MAGENTA = '#FF00FF', ORANGE = '#FFC000';
const BLUE = '#1010F0', GREEN = '#18E418', RED = '#FF0000', BLACK = '#000000';

const xDomain = [PX(193), PX(1506)];
const xRange = [T(-2.922), T(25.622)];

function xAxis(anchor, matches) {
  const ax = {
    type: 'date', domain: xDomain, range: xRange, anchor: anchor,
    tickmode: 'array', tickvals: tickDays.map(T), ticktext: tickDays.map(() => ''),
    showticklabels: false, ticks: 'outside', ticklen: 12, tickwidth: 1.5, tickcolor: AX,
    minor: {dtick: DAY / 2, tick0: T0, ticks: 'outside', ticklen: 7, tickwidth: 1.2, tickcolor: AX, showgrid: false},
    showline: true, mirror: true, linecolor: AX, linewidth: 2, showgrid: false, zeroline: false
  };
  if (matches) ax.matches = matches;
  return ax;
}
function yAxis(domain, range, tickvals, minorStep, fmt, anchor) {
  return {
    domain: domain, range: range, anchor: anchor, tickmode: 'array', tickvals: tickvals,
    tickformat: fmt, ticks: 'outside', ticklen: 10, tickwidth: 1.5, tickcolor: AX,
    minor: {dtick: minorStep, tick0: 0, ticks: 'outside', ticklen: 5, tickwidth: 1.2, tickcolor: AX, showgrid: false},
    showline: true, mirror: true, linecolor: AX, linewidth: 2, showgrid: false, zeroline: false,
    tickfont: {family: FONT, size: 32, color: '#000'}
  };
}

const traces = [
  {x: xs(era5WS), y: ys(era5WS), xaxis: 'x', yaxis: 'y', mode: 'lines', line: {color: BLUE, width: 2.2}, name: 'ERA5 WS'},
  {x: xs(era5WD), y: ys(era5WD), xaxis: 'x', yaxis: 'y2', mode: 'markers', marker: {color: GREEN, size: 7}, name: 'ERA5 WD'},
  {x: xs(rcmHs), y: ys(rcmHs), xaxis: 'x2', yaxis: 'y3', mode: 'lines', line: {color: BLACK, width: 2.6}, name: 'RCM Hs'},
  {x: xs(cmemsHs), y: ys(cmemsHs), xaxis: 'x2', yaxis: 'y3', mode: 'lines', line: {color: RED, width: 2.6}, name: 'CMEMS Hs'},
  {x: xs(rcmTp), y: ys(rcmTp), xaxis: 'x3', yaxis: 'y4', mode: 'lines', line: {color: BLACK, width: 2.6}, name: 'RCM Tp'},
  {x: xs(cmemsTp), y: ys(cmemsTp), xaxis: 'x3', yaxis: 'y4', mode: 'lines', line: {color: RED, width: 2.6}, name: 'CMEMS Tp'},
  {x: xs(cmemsMWD), y: ys(cmemsMWD), xaxis: 'x4', yaxis: 'y5', mode: 'markers', marker: {color: RED, size: 7}, name: 'CMEMS MWD'},
  {x: xs(adcpMWD), y: ys(adcpMWD), xaxis: 'x4', yaxis: 'y5', mode: 'markers', marker: {color: BLACK, size: 7}, name: 'ADCP MWD'}
];

const shapes = [];
const annotations = [];

// figure frame
shapes.push({type: 'rect', xref: 'paper', yref: 'paper', x0: 0, x1: PX(4), y0: 0, y1: 1, fillcolor: '#000', line: {width: 0}, layer: 'above'});
shapes.push({type: 'line', xref: 'paper', yref: 'paper', x0: PX(39), x1: PX(39), y0: 0, y1: PY(34), line: {color: '#000', width: 2.5}});
shapes.push({type: 'line', xref: 'paper', yref: 'paper', x0: PX(39), x1: 1.01, y0: PY(34), y1: PY(34), line: {color: '#000', width: 2.5}});

// date tick labels on the bottom panel (two rows)
tickDays.forEach((d, i) => {
  annotations.push({xref: 'x4', yref: 'paper', x: T(d), y: PY(1661), text: tickTimes[i], showarrow: false,
    xanchor: 'center', yanchor: 'middle', font: {family: FONT, size: 33, color: '#000'}});
  annotations.push({xref: 'x4', yref: 'paper', x: T(d), y: PY(1700), text: tickDates[i], showarrow: false,
    xanchor: 'center', yanchor: 'middle', font: {family: FONT, size: 33, color: '#000'}});
});

// right-hand wind direction tick labels (right aligned)
wdTicks.forEach(v => annotations.push({xref: 'paper', yref: 'y2', x: PX(1587), y: v, text: String(v), showarrow: false,
  xanchor: 'right', yanchor: 'middle', font: {family: FONT, size: 32, color: '#000'}}));

// event boxes
eventNames.forEach((nm, i) => {
  const sh = eventKind[i] === 'shamal';
  const col = sh ? MAGENTA : ORANGE;
  shapes.push({type: 'rect', xref: 'x', yref: 'paper', x0: T(eventStart[i]), x1: T(eventEnd[i]),
    y0: PY(1635), y1: PY(sh ? 87 : 225), line: {color: col, width: 4.5}, fillcolor: 'rgba(0,0,0,0)', layer: 'above'});
  annotations.push({xref: 'x', yref: 'paper', x: T((eventStart[i] + eventEnd[i]) / 2), y: PY(sh ? 60 : 194),
    xshift: 5, text: '<b><i>' + nm + '</i></b>', showarrow: false, xanchor: 'center', yanchor: 'middle',
    font: {family: SERIF, size: 37, color: col}});
});

// axis titles
const titles = [
  ['Wind speed (m/s)', 80, 275], ['Sign. wave height (m)', 80, 666],
  ['Peak wave period (s)', 74, 1057], ['Mean wave direction (deg)', 71, 1470],
  ['Wind direction (deg)', 1628, 278]
];
titles.forEach(t => annotations.push({xref: 'paper', yref: 'paper', x: PX(t[1]), y: PY(t[2]), text: t[0],
  textangle: -90, showarrow: false, xanchor: 'center', yanchor: 'middle', font: {family: FONT, size: 35, color: '#000'}}));

// legends (panel labels, boxes, entries)
const legends = [
  {tag: '(a)', tagY: 181, box: [228, 337], rows: [['ERA5 WS', 'line', BLUE], ['ERA5 WD', 'dots', GREEN]], rowY: [267, 303], x0: 1687},
  {tag: '(b)', tagY: 559, box: [604, 711], rows: [['RCM Hs', 'line', BLACK], ['CMEMS Hs', 'line', RED]], rowY: [642, 677], x0: 1693},
  {tag: '(c)', tagY: 958, box: [1003, 1112], rows: [['RCM Tp', 'line', BLACK], ['CMEMS Tp', 'line', RED]], rowY: [1045, 1080], x0: 1693},
  {tag: '(d)', tagY: 1351, box: [1392, 1499], rows: [['ADCP MWD', 'dots', BLACK], ['CMEMS MWD', 'dots', RED]], rowY: [1432, 1467], x0: 1693}
];
legends.forEach(L => {
  annotations.push({xref: 'paper', yref: 'paper', x: PX(1840), y: PY(L.tagY), text: L.tag, showarrow: false,
    xanchor: 'center', yanchor: 'middle', font: {family: SERIF, size: 46, color: '#000'}});
  shapes.push({type: 'rect', xref: 'paper', yref: 'paper', x0: PX(L.x0), x1: PX(2040), y0: PY(L.box[1]), y1: PY(L.box[0]),
    line: {color: '#333', width: 2.2}, fillcolor: 'rgba(0,0,0,0)'});
  L.rows.forEach((r, k) => {
    const y = L.rowY[k];
    annotations.push({xref: 'paper', yref: 'paper', x: PX(L.x0 + 14), y: PY(y), text: r[0], showarrow: false,
      xanchor: 'left', yanchor: 'middle', font: {family: FONT, size: 31, color: '#000'}});
    if (r[1] === 'line') {
      const xa = L.tag === '(a)' ? 1890 : 1904, xb = L.tag === '(a)' ? 1998 : 2030;
      shapes.push({type: 'line', xref: 'paper', yref: 'paper', x0: PX(xa), x1: PX(xb), y0: PY(y), y1: PY(y),
        line: {color: r[2], width: 3}});
    } else {
      const cx = L.tag === '(a)' ? [1920, 1974] : [1948, 2000];
      cx.forEach(c => shapes.push({type: 'circle', xref: 'paper', yref: 'paper', x0: PX(c - 3.5), x1: PX(c + 3.5),
        y0: PY(y + 3.5), y1: PY(y - 3.5), fillcolor: r[2], line: {width: 0}}));
    }
  });
});

const y2 = yAxis([PY(451), PY(103)], [0, 360], wdTicks, 20, 'd', 'x');
y2.overlaying = 'y'; y2.side = 'right'; y2.mirror = false; y2.showticklabels = false;

const layout = {
  width: W, height: H, margin: {l: 0, r: 0, t: 0, b: 0},
  paper_bgcolor: '#fff', plot_bgcolor: '#fff', showlegend: false,
  font: {family: FONT, color: '#000'},
  xaxis: xAxis('y'),
  xaxis2: xAxis('y3', 'x'),
  xaxis3: xAxis('y4', 'x'),
  xaxis4: xAxis('y5', 'x'),
  yaxis: yAxis([PY(451), PY(103)], [0, 16], [0, 5, 10, 15], 1, 'd', 'x'),
  yaxis2: y2,
  yaxis3: yAxis([PY(843), PY(488)], [0, 2], [0, 0.5, 1, 1.5, 2], 0.1, '.1f', 'x2'),
  yaxis4: yAxis([PY(1235), PY(882)], [0, 9], [0, 2, 4, 6, 8], 0.4, '.1f', 'x3'),
  yaxis5: yAxis([PY(1625), PY(1271)], [0, 361], [0, 100, 200, 300], 20, 'd', 'x4'),
  shapes: shapes, annotations: annotations
};

Plotly.newPlot('chart', traces, layout, {staticPlot: true, displayModeBar: false});
</script>
</body></html>
